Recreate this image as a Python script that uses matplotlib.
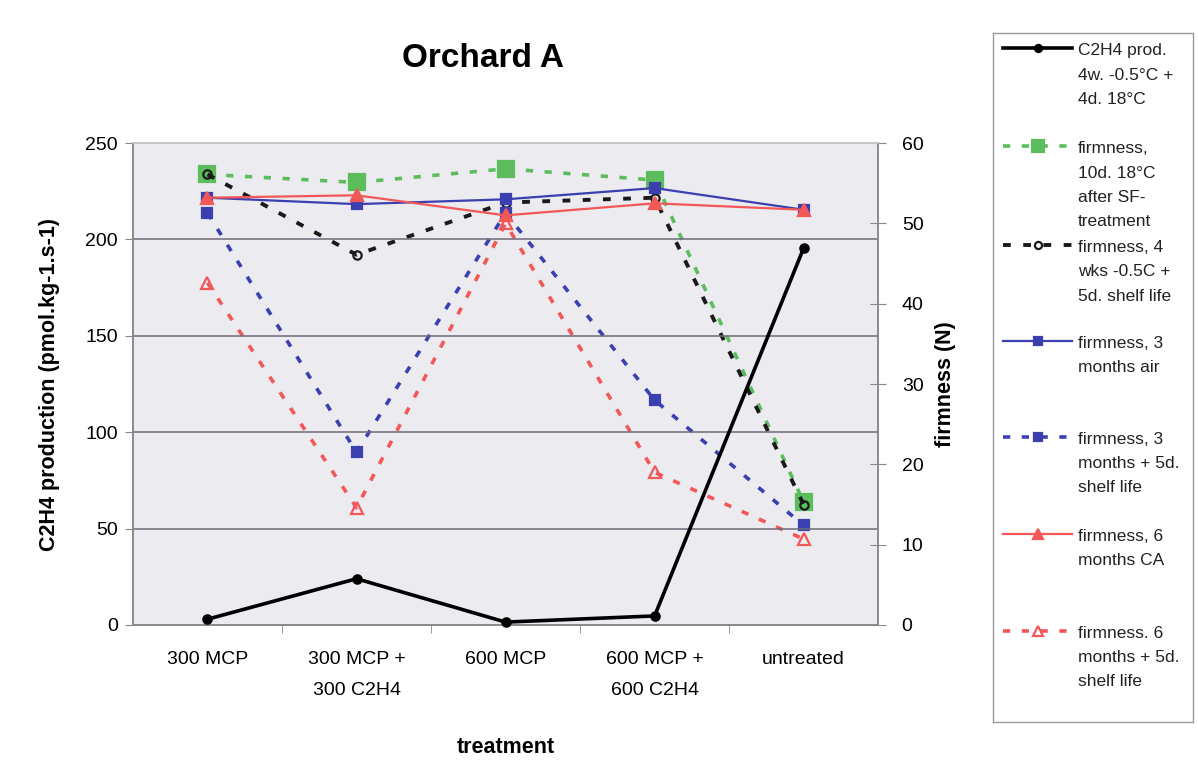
import matplotlib
matplotlib.use("Agg")
import matplotlib.pyplot as plt
from matplotlib.lines import Line2D

plt.rcParams['font.family'] = ['Liberation Sans', 'DejaVu Sans']

# --- data -------------------------------------------------------------
treatments = ["300 MCP", "300 MCP +\n300 C2H4", "600 MCP", "600 MCP +\n600 C2H4", "untreated"]

c2h4_prod = [3, 24, 1.5, 4.7, 195.5]            # pmol.kg-1.s-1, left axis

firm_10d_sf = [56.1, 55.1, 56.8, 55.4, 15.3]     # firmness (N), right axis
firm_4wk_shelf = [56.1, 46.1, 52.6, 53.2, 15.0]
firm_3m_air = [53.2, 52.4, 53.0, 54.4, 51.7]
firm_3m_shelf = [51.3, 21.5, 51.3, 28.0, 12.4]
firm_6m_ca = [53.2, 53.5, 51.0, 52.5, 51.7]
firm_6m_shelf = [42.6, 14.6, 50.0, 19.0, 10.7]

left_ticks = [0, 50, 100, 150, 200, 250]
right_ticks = [0, 10, 20, 30, 40, 50, 60]

# --- styles -------------------------------------------------------------
GREEN = '#5cbd5c'
BLUE = '#3b3fb0'
RED = '#f25858'
DASH = (2.0, 3.2)

series = [
    dict(y=c2h4_prod, color='black', lw=2.6, ls='-', marker='o', ms=6, mfc='black',
         label="C2H4 prod.\n4w. -0.5°C +\n4d. 18°C"),
    dict(y=firm_10d_sf, color=GREEN, lw=2.6, ls=DASH, marker='s', ms=11, mfc=GREEN,
         label="firmness,\n10d. 18°C\nafter SF-\ntreatment"),
    dict(y=firm_4wk_shelf, color='#1a1a1a', lw=2.8, ls=DASH, marker='o', ms=6, mfc='none',
         label="firmness, 4\nwks -0.5C +\n5d. shelf life"),
    dict(y=firm_3m_air, color=BLUE, lw=1.6, ls='-', marker='s', ms=6.5, mfc=BLUE,
         label="firmness, 3\nmonths air"),
    dict(y=firm_3m_shelf, color=BLUE, lw=2.6, ls=DASH, marker='s', ms=6.5, mfc=BLUE,
         label="firmness, 3\nmonths + 5d.\nshelf life"),
    dict(y=firm_6m_ca, color=RED, lw=1.6, ls='-', marker='^', ms=8, mfc=RED,
         label="firmness, 6\nmonths CA"),
    dict(y=firm_6m_shelf, color=RED, lw=2.6, ls=DASH, marker='^', ms=8, mfc='none',
         label="firmness. 6\nmonths + 5d.\nshelf life"),
]

fig = plt.figure(figsize=(11.98, 7.76), dpi=100)
fig.patch.set_facecolor('white')

ax = fig.add_axes([0.111, 0.1946, 0.622, 0.621])
ax2 = ax.twinx()
x = list(range(len(treatments)))


def draw_series(axis, s):
    ls = s['ls']
    line, = axis.plot(x, s['y'], color=s['color'], lw=s['lw'],
                      linestyle='-' if ls == '-' else (0, ls),
                      marker=s['marker'], markersize=s['ms'],
                      markerfacecolor=s['mfc'], markeredgecolor=s['color'],
                      markeredgewidth=1.6, clip_on=False, zorder=3)
    if ls != '-':
        line.set_dash_capstyle('butt')
    return line


# left axis: grid and ethylene production, drawn above the firmness axis
for v in left_ticks[1:-1]:
    ax.axhline(v, color='#6e6a78', lw=1.1, zorder=1)
draw_series(ax, series[0])
ax.set_zorder(2)
ax.patch.set_visible(False)
ax2.set_zorder(1)
ax2.set_facecolor('#ebebf0')
ax2.patch.set_visible(True)

# right axis: firmness
for s in series[1:]:
    draw_series(ax2, s)

ax.set_xlim(-0.5, len(treatments) - 0.5)
ax.set_ylim(0, 250)
ax2.set_ylim(0, 60)
ax.set_yticks(left_ticks)
ax2.set_yticks(right_ticks)

ax.set_xticks(x)
ax.set_xticklabels(treatments, fontsize=14, linespacing=2.05)
ax.set_xticks([i + 0.5 for i in x[:-1]], minor=True)
ax.tick_params(axis='x', which='major', length=0, pad=19)
ax.tick_params(axis='x', which='minor', length=6, color='#888888', direction='out')
ax.tick_params(axis='y', labelsize=14, length=6, color='#888888', pad=5)
ax2.tick_params(axis='y', labelsize=14, length=12, color='#888888', pad=11,
                direction='inout')

for a in (ax, ax2):
    for sp in a.spines.values():
        sp.set_color('#8a8a8a')
        sp.set_linewidth(1.2)
    a.spines['top'].set_color('#c8c8c8')

ax.set_ylabel("C2H4 production (pmol.kg-1.s-1)", fontsize=15.5, fontweight='bold', labelpad=18)
ax2.set_ylabel("firmness (N)", fontsize=15.5, fontweight='bold', labelpad=8)
ax.set_xlabel("treatment", fontsize=15.5, fontweight='bold', labelpad=27)
fig.text(0.403, 0.924, "Orchard A", fontsize=24, fontweight='bold', ha='center', va='center')

# legend drawn in its own box, in pixel units of the box
lax = fig.add_axes([0.829, 0.070, 0.167, 0.887])
lax.set_xlim(0, 200)
lax.set_ylim(689, 0)
lax.set_xticks([])
lax.set_yticks([])
for sp in lax.spines.values():
    sp.set_color('#9a9a9a')
    sp.set_linewidth(1.0)

entry_y = [15, 113, 212, 308, 404, 501, 598]
for s, yy in zip(series, entry_y):
    ls = s['ls']
    h = Line2D([10, 79], [yy, yy], color=s['color'], lw=s['lw'],
               linestyle='-' if ls == '-' else (0, ls))
    lax.add_line(h)
    lax.plot([45], [yy], marker=s['marker'], markersize=s['ms'] * 0.85,
             markerfacecolor=s['mfc'], markeredgecolor=s['color'], markeredgewidth=1.6,
             linestyle='none')
    lax.text(85, yy - 5, s['label'], fontsize=12.5, va='top', ha='left',
             linespacing=1.77, color='#222222')

fig.savefig("out.png", dpi=100)
